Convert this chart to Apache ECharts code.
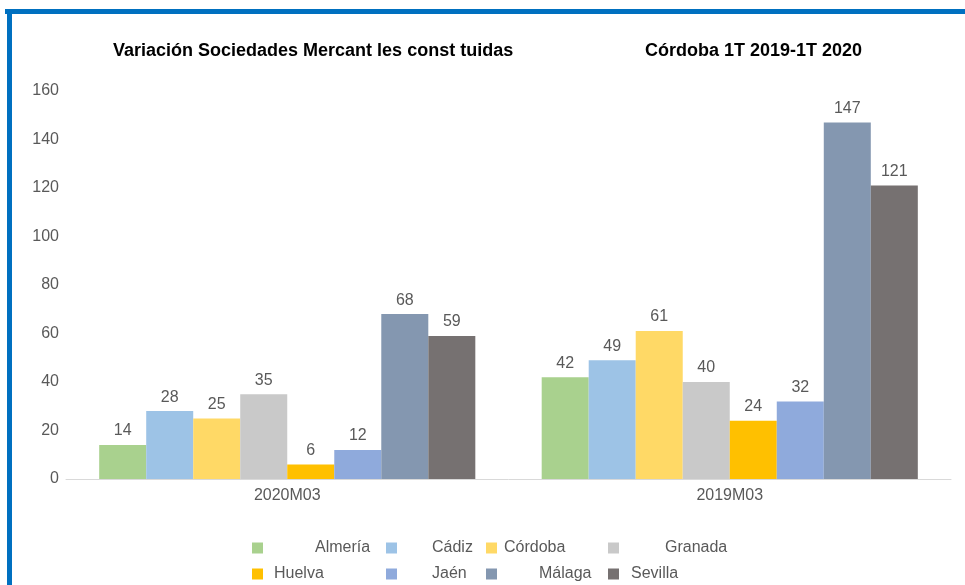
<!DOCTYPE html>
<html><head><meta charset="utf-8">
<script src="https://cdn.jsdelivr.net/npm/echarts@6/dist/echarts.min.js"></script>
<style>html,body{margin:0;padding:0;background:#fff}#c{width:965px;height:585px}</style>
</head><body><div id="c"></div>
<script>
var categories = ['2020M03', '2019M03'];
var provinces = ['Almería', 'Cádiz', 'Córdoba', 'Granada', 'Huelva', 'Jaén', 'Málaga', 'Sevilla'];
var almeria = [14, 42];
var cadiz = [28, 49];
var cordoba = [25, 61];
var granada = [35, 40];
var huelva = [6, 24];
var jaen = [12, 32];
var malaga = [68, 147];
var sevilla = [59, 121];
var yTicks = [0, 20, 40, 60, 80, 100, 120, 140, 160];

var values = [almeria, cadiz, cordoba, granada, huelva, jaen, malaga, sevilla];
var colors = ['#A9D18E', '#9DC3E6', '#FFD966', '#C9C9C9', '#FFC000', '#8FAADC', '#8497B0', '#767171'];
var font = 'Liberation Sans, Arial, sans-serif';
var txt = '#595959';

// legend placement: [iconLeft, top, textPadLeft]
var legPos = [
  [252, 540, 47], [386, 540, 30], [486, 540, 2], [608, 540, 41],
  [252, 566, 6], [386, 566, 30], [486, 566, 37], [608, 566, 7]
];
var legends = provinces.map(function (p, i) {
  return {
    data: [p], left: legPos[i][0], top: legPos[i][1], orient: 'horizontal', padding: 0,
    itemWidth: 11, itemHeight: 11, itemGap: 0, icon: 'rect',
    textStyle: { color: txt, fontSize: 16, fontFamily: font, padding: [0, 0, 0, legPos[i][2]] }
  };
});

var series = provinces.map(function (p, i) {
  return {
    name: p, type: 'bar', data: values[i], barGap: '0%', barCategoryGap: '15%',
    itemStyle: { color: colors[i] },
    label: { show: true, position: 'top', color: txt, fontSize: 16, fontFamily: font, distance: 6 }
  };
});

var chart = echarts.init(document.getElementById('c'));
chart.setOption({
  animation: false,
  title: [
    { text: 'Variación Sociedades Mercant les const tuidas', left: 113, top: 42, padding: 0,
      textStyle: { fontSize: 18, fontWeight: 'bold', color: '#000', fontFamily: font } },
    { text: 'Córdoba 1T 2019-1T 2020', left: 645, top: 42, padding: 0,
      textStyle: { fontSize: 18, fontWeight: 'bold', color: '#000', fontFamily: font } }
  ],
  legend: legends,
  grid: { left: 66, right: 14, top: 91, bottom: 106, containLabel: false },
  xAxis: {
    type: 'category', data: categories,
    axisLine: { lineStyle: { color: '#D9D9D9', width: 1 } },
    axisTick: { show: false },
    axisLabel: { color: txt, fontSize: 16, fontFamily: font, margin: 9 }
  },
  yAxis: {
    type: 'value', min: yTicks[0], max: yTicks[yTicks.length - 1], interval: 20,
    axisLine: { show: false }, axisTick: { show: false }, splitLine: { show: false },
    axisLabel: { color: txt, fontSize: 16, fontFamily: font, margin: 7 }
  },
  graphic: [
    { type: 'rect', shape: { x: 5, y: 9, width: 960, height: 5 }, style: { fill: '#0070C0' } },
    { type: 'rect', shape: { x: 7, y: 9, width: 5, height: 576 }, style: { fill: '#0070C0' } }
  ],
  series: series
});
</script></body></html>
